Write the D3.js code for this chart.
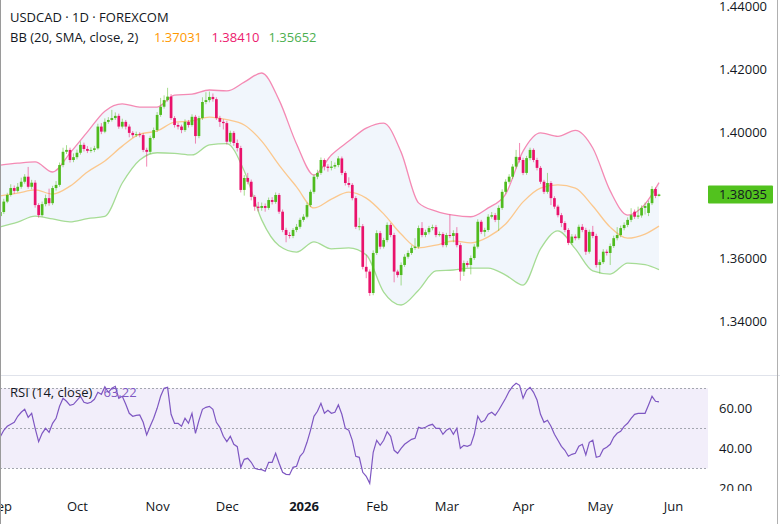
<!DOCTYPE html>
<html>
<head>
<meta charset="utf-8">
<script src="https://cdn.jsdelivr.net/npm/d3@7"></script>
<style>
  body { margin: 0; background: #fff; }
  svg { display: block; font-family: "Open Sans", sans-serif; }
</style>
</head>
<body>
<div class="canva"></div>
<script>
// USDCAD daily, bar index 0 = 1 Oct 2025 (first bar -22 = 1 Sep 2025)
const firstIdx = -22;

const opens = [
  1.3735,1.3748,1.3781,1.3802,1.3824,1.3815,1.3828,1.3844,1.3860,1.3828,
  1.3841,1.3770,1.3738,1.3773,1.3792,1.3776,1.3824,1.3834,1.3897,1.3939,
  1.3945,1.3913,
  1.3922,1.3936,1.3961,1.3948,1.3942,1.3945,1.3950,1.4019,1.4003,1.4034,
  1.4040,1.4046,1.4053,1.4019,1.4034,1.4019,1.3999,1.3992,1.3995,1.3992,
  1.3945,1.3939,1.3983,1.4008,1.4056,1.4082,1.4103,1.4114,1.4046,1.4024,
  1.4019,1.4008,1.4034,1.4024,1.4050,1.3989,1.4046,1.4097,1.4103,1.4113,
  1.4106,1.4046,1.4034,1.4030,1.3971,1.3999,1.3967,1.3951,1.3818,1.3856,
  1.3844,1.3796,1.3765,1.3761,1.3767,1.3761,1.3786,1.3780,1.3802,1.3749,
  1.3691,1.3675,1.3672,1.3691,1.3701,1.3723,1.3733,1.3770,1.3812,1.3860,
  1.3872,1.3913,1.3892,1.3888,1.3892,1.3897,1.3918,1.3872,1.3840,1.3834,
  1.3792,1.3701,1.3703,1.3574,1.3559,1.3491,1.3618,1.3681,1.3638,1.3659,
  1.3707,1.3675,1.3559,1.3548,1.3580,1.3606,1.3618,1.3634,1.3638,1.3697,
  1.3675,1.3684,1.3697,1.3700,1.3675,1.3678,1.3643,1.3675,1.3672,1.3681,
  1.3643,1.3559,1.3586,1.3580,1.3602,1.3638,1.3717,1.3685,1.3691,1.3733,
  1.3738,1.3723,1.3761,1.3812,1.3844,1.3860,1.3892,1.3922,1.3913,1.3872,
  1.3919,1.3945,1.3913,1.3888,1.3844,1.3812,1.3840,1.3792,1.3765,1.3738,
  1.3713,1.3691,1.3650,1.3670,1.3665,1.3701,1.3691,1.3622,1.3685,1.3672,
  1.3580,1.3589,1.3622,1.3618,1.3640,1.3665,1.3675,1.3697,1.3707,1.3723,
  1.3749,1.3733,1.3737,1.3761,1.3745,1.3776,1.3821,1.3799
];

const highs = [
  1.3755,1.3790,1.3809,1.3836,1.3832,1.3840,1.3857,1.3868,1.3891,1.3850,
  1.3849,1.3776,1.3781,1.3803,1.3822,1.3831,1.3846,1.3905,1.3952,1.3960,
  1.3952,1.3934,
  1.3946,1.3972,1.3968,1.3957,1.3953,1.3958,1.4028,1.4030,1.4045,1.4049,
  1.4072,1.4064,1.4060,1.4044,1.4040,1.4026,1.4005,1.4003,1.4001,1.3998,
  1.3952,1.3990,1.4016,1.4065,1.4110,1.4118,1.4142,1.4122,1.4052,1.4031,
  1.4025,1.4042,1.4040,1.4058,1.4056,1.4053,1.4112,1.4128,1.4130,1.4124,
  1.4112,1.4053,1.4042,1.4037,1.4006,1.4005,1.3978,1.3958,1.3865,1.3872,
  1.3851,1.3802,1.3780,1.3778,1.3775,1.3794,1.3795,1.3810,1.3808,1.3756,
  1.3698,1.3684,1.3697,1.3710,1.3730,1.3741,1.3778,1.3819,1.3868,1.3882,
  1.3921,1.3918,1.3900,1.3910,1.3905,1.3925,1.3924,1.3878,1.3858,1.3840,
  1.3798,1.3730,1.3710,1.3612,1.3566,1.3626,1.3690,1.3688,1.3666,1.3715,
  1.3713,1.3682,1.3565,1.3588,1.3614,1.3626,1.3642,1.3665,1.3705,1.3716,
  1.3692,1.3704,1.3708,1.3707,1.3686,1.3684,1.3682,1.3740,1.3690,1.3700,
  1.3650,1.3594,1.3593,1.3610,1.3646,1.3725,1.3723,1.3698,1.3741,1.3748,
  1.3745,1.3769,1.3820,1.3852,1.3868,1.3900,1.3945,1.3967,1.3920,1.3926,
  1.3952,1.3950,1.3920,1.3894,1.3850,1.3872,1.3846,1.3798,1.3771,1.3745,
  1.3719,1.3697,1.3678,1.3677,1.3708,1.3710,1.3698,1.3692,1.3704,1.3679,
  1.3597,1.3630,1.3629,1.3648,1.3673,1.3700,1.3705,1.3715,1.3731,1.3760,
  1.3756,1.3765,1.3769,1.3778,1.3784,1.3830,1.3826,1.3806
];

const lows = [
  1.3728,1.3742,1.3776,1.3797,1.3806,1.3810,1.3822,1.3838,1.3822,1.3820,
  1.3762,1.3730,1.3733,1.3766,1.3768,1.3770,1.3816,1.3828,1.3890,1.3932,
  1.3905,1.3906,
  1.3915,1.3930,1.3940,1.3935,1.3936,1.3938,1.3946,1.3995,1.3998,1.4028,
  1.4035,1.4040,1.4012,1.4013,1.4010,1.3985,1.3984,1.3986,1.3985,1.3938,
  1.3892,1.3932,1.3978,1.4002,1.4050,1.4076,1.4098,1.4040,1.4016,1.4010,
  1.3998,1.4002,1.4016,1.4019,1.3965,1.3982,1.4040,1.4090,1.4096,1.4098,
  1.4040,1.4018,1.4010,1.3962,1.3964,1.3958,1.3940,1.3810,1.3800,1.3836,
  1.3785,1.3752,1.3750,1.3752,1.3749,1.3755,1.3772,1.3774,1.3742,1.3684,
  1.3652,1.3664,1.3665,1.3684,1.3695,1.3717,1.3728,1.3764,1.3806,1.3852,
  1.3866,1.3880,1.3876,1.3880,1.3885,1.3890,1.3865,1.3832,1.3826,1.3785,
  1.3694,1.3690,1.3566,1.3538,1.3482,1.3484,1.3612,1.3630,1.3632,1.3652,
  1.3668,1.3525,1.3540,1.3515,1.3574,1.3600,1.3612,1.3628,1.3632,1.3668,
  1.3668,1.3677,1.3690,1.3668,1.3670,1.3636,1.3636,1.3665,1.3652,1.3636,
  1.3530,1.3545,1.3572,1.3550,1.3596,1.3632,1.3678,1.3670,1.3685,1.3727,
  1.3716,1.3688,1.3755,1.3806,1.3838,1.3853,1.3886,1.3905,1.3865,1.3866,
  1.3912,1.3906,1.3880,1.3837,1.3805,1.3806,1.3770,1.3758,1.3731,1.3700,
  1.3684,1.3643,1.3644,1.3658,1.3660,1.3684,1.3612,1.3616,1.3665,1.3572,
  1.3553,1.3583,1.3610,1.3580,1.3634,1.3658,1.3668,1.3690,1.3700,1.3716,
  1.3726,1.3726,1.3730,1.3740,1.3735,1.3770,1.3792,1.3797
];

const closes = [
  1.3748,1.3781,1.3802,1.3824,1.3815,1.3828,1.3844,1.3860,1.3828,1.3841,
  1.3770,1.3738,1.3773,1.3792,1.3776,1.3824,1.3834,1.3897,1.3939,1.3945,
  1.3913,1.3922,
  1.3936,1.3961,1.3948,1.3942,1.3945,1.3950,1.4019,1.4003,1.4034,1.4040,
  1.4046,1.4053,1.4019,1.4034,1.4019,1.3999,1.3992,1.3995,1.3992,1.3945,
  1.3939,1.3983,1.4008,1.4056,1.4082,1.4103,1.4114,1.4046,1.4024,1.4019,
  1.4008,1.4034,1.4024,1.4050,1.3989,1.4046,1.4097,1.4103,1.4113,1.4106,
  1.4046,1.4034,1.4030,1.3971,1.3999,1.3967,1.3951,1.3818,1.3856,1.3844,
  1.3796,1.3765,1.3761,1.3767,1.3761,1.3786,1.3780,1.3802,1.3749,1.3691,
  1.3675,1.3672,1.3691,1.3701,1.3723,1.3733,1.3770,1.3812,1.3860,1.3872,
  1.3913,1.3892,1.3888,1.3892,1.3897,1.3918,1.3872,1.3840,1.3834,1.3792,
  1.3701,1.3703,1.3574,1.3559,1.3491,1.3618,1.3681,1.3638,1.3659,1.3707,
  1.3675,1.3559,1.3548,1.3580,1.3606,1.3618,1.3634,1.3638,1.3697,1.3675,
  1.3684,1.3697,1.3700,1.3675,1.3678,1.3643,1.3675,1.3672,1.3681,1.3643,
  1.3559,1.3586,1.3580,1.3602,1.3638,1.3717,1.3685,1.3691,1.3733,1.3738,
  1.3723,1.3761,1.3812,1.3844,1.3860,1.3892,1.3923,1.3913,1.3872,1.3919,
  1.3945,1.3913,1.3888,1.3844,1.3812,1.3840,1.3792,1.3765,1.3738,1.3713,
  1.3691,1.3650,1.3670,1.3665,1.3701,1.3691,1.3622,1.3685,1.3672,1.3580,
  1.3589,1.3622,1.3618,1.3640,1.3665,1.3675,1.3697,1.3707,1.3723,1.3738,
  1.3733,1.3737,1.3761,1.3767,1.3776,1.3821,1.3799,1.38035
];

// Bollinger bands (20, 2), read every 5 bars
const bandIdx = [-22,-17,-12,-7,-2,3,8,13,18,23,28,33,38,43,48,53,58,63,68,73,
  78,83,88,93,98,103,108,113,118,123,128,133,138,143,148,153,158,163,167];
const bbUpper = [
  1.3897,1.3903,1.3907,1.3875,1.3935,1.4002,1.4068,1.4091,1.4081,1.4081,
  1.4119,1.4122,1.4135,1.4132,1.4160,1.4189,1.4103,1.3964,1.3865,1.3929,
  1.3973,1.4014,1.4030,1.3938,1.3777,1.3751,1.3738,1.3733,1.3761,1.3805,
  1.3941,1.3999,1.3988,1.4007,1.3951,1.3815,1.3738,1.3773,1.38410
];
const bbBasis = [
  1.3799,1.3808,1.3818,1.3805,1.3830,1.3875,1.3910,1.3957,1.3995,1.4005,
  1.4033,1.4037,1.4049,1.4041,1.4024,1.3973,1.3897,1.3828,1.3761,1.3789,
  1.3811,1.3792,1.3742,1.3678,1.3634,1.3643,1.3656,1.3650,1.3669,1.3710,
  1.3780,1.3824,1.3834,1.3824,1.3767,1.3700,1.3665,1.3678,1.37031
];
const bbLower = [
  1.3701,1.3716,1.3735,1.3726,1.3717,1.3727,1.3734,1.3840,1.3913,1.3936,
  1.3934,1.3929,1.3961,1.3965,1.3878,1.3723,1.3641,1.3621,1.3653,1.3631,
  1.3634,1.3612,1.3494,1.3453,1.3500,1.3561,1.3564,1.3570,1.3570,1.3548,
  1.3516,1.3631,1.3688,1.3631,1.3561,1.3551,1.3586,1.3581,1.35652
];

// RSI (14), one value per bar
const rsi = [
  45.8,49,51,52,53,56,58,59.5,55.5,57.5,
  50,43.3,47.5,50,48,52.5,55,61,65,63.5,
  61.5,62,
  64,66,63,62.5,63,64.5,68,67,70.8,68,
  70,71,65,66,62,57.5,56,56.5,56.7,53,
  46.7,51,55,60,66,70,70.5,57,52.5,52.5,
  51,55,52.5,57.5,47.5,54,59.5,60.5,61,59.5,
  53,50.5,46,43.3,46,42,40.8,30.5,34.5,35,
  33,30,29.5,29.3,28.5,33,33,37.5,32.5,28,
  27,26.8,30.5,31,36,38,43,49,56,58.5,
  62.5,57.5,59,57.5,58,61.7,57,50,49,44,
  36,35.5,28,26,22.5,38,44,41.5,44,48.3,
  46,39,37.5,40,42,43.3,44.5,45,50.5,50,
  50.5,51.5,52,50,50,47,49,50,47,50,
  40,41.5,41,41.7,47,56,53,54,57,58,
  56.5,59,62,65,68.5,71,72.5,71.5,65,69,
  70.5,68,64.2,57,53,54,51,47,44,41,
  39,36,37,37.5,41,42,36.7,43,44,35.5,
  36,39.5,40.5,42,45.5,47.5,48.5,51,52.5,55,
  57,57.5,57.5,57.5,61.7,66,63.5,63.22
];

const tickIdx = [-22, 0, 23, 43, 65, 86, 106, 128, 150, 171];
const tickLabels = ["Sep", "Oct", "Nov", "Dec", "2026", "Feb", "Mar", "Apr", "May", "Jun"];
const priceTicks = [1.34, 1.36, 1.40, 1.42, 1.44];
const rsiTicks = [20, 40, 60];
const rsiLevels = [70, 50, 30];

const upColor = "#4fbb1e", downColor = "#e9126b";
const W = 780, H = 524, plotW = 708;

const svg = d3.select('.canva').append('svg')
    .attr('width', W)
    .attr('height', H);

const x = d3.scaleLinear().domain([-22, 167]).range([0.3, 659]);
const y = d3.scaleLinear().domain([1.32309, 1.44206]).range([375, 0]);
const yR = d3.scaleLinear().domain([18.65, 76.15]).range([491, 376]);

const defs = svg.append('defs');
defs.append('clipPath').attr('id', 'clipMain')
  .append('rect').attr('x', 0).attr('y', 0).attr('width', plotW).attr('height', 375);
defs.append('clipPath').attr('id', 'clipRsi')
  .append('rect').attr('x', 0).attr('y', 376).attr('width', plotW).attr('height', 115);
defs.append('clipPath').attr('id', 'clipRsiAxis')
  .append('rect').attr('x', plotW).attr('y', 376).attr('width', W - plotW).attr('height', 115);

/* main pane */
const main = svg.append('g').attr('clip-path', 'url(#clipMain)');

const bandPts = bandIdx.map((d, k) => ({ i: d, u: bbUpper[k], m: bbBasis[k], l: bbLower[k] }));
const curve = d3.curveMonotoneX;

main.append('path')
  .datum(bandPts)
  .attr('d', d3.area().curve(curve).x(d => x(d.i)).y0(d => y(d.l)).y1(d => y(d.u)))
  .attr('fill', '#f1f6fc');

const bandLine = (key, color) => {
  main.append('path')
    .datum(bandPts)
    .attr('d', d3.line().curve(curve).x(d => x(d.i)).y(d => y(d[key])))
    .attr('fill', 'none')
    .attr('stroke', color)
    .attr('stroke-width', 1.3);
};
bandLine('m', '#fbc88e');
bandLine('u', '#f48ab4');
bandLine('l', '#a6dc95');

const bars = closes.map((c, k) => ({ i: k + firstIdx, o: opens[k], h: highs[k], l: lows[k], c: c }));
const colorOf = d => d.c >= d.o ? upColor : downColor;

main.selectAll('line.wick')
  .data(bars)
  .enter().append('line')
  .attr('class', 'wick')
  .attr('x1', d => x(d.i)).attr('x2', d => x(d.i))
  .attr('y1', d => y(d.h)).attr('y2', d => y(d.l))
  .attr('stroke', colorOf)
  .attr('stroke-opacity', 0.5)
  .attr('stroke-width', 1);

main.selectAll('rect.body')
  .data(bars)
  .enter().append('rect')
  .attr('class', 'body')
  .attr('x', d => x(d.i) - 1.35)
  .attr('width', 2.7)
  .attr('y', d => y(Math.max(d.o, d.c)))
  .attr('height', d => Math.max(1, Math.abs(y(d.o) - y(d.c))))
  .attr('fill', colorOf);

/* price axis */
const pAxis = svg.append('g')
  .attr('transform', `translate(${plotW},0)`)
  .call(d3.axisRight(y).tickValues(priceTicks).tickFormat(d3.format('.5f')).tickSize(0).tickPadding(11));
pAxis.select('.domain').remove();
pAxis.selectAll('text').attr('font-size', 13).attr('font-family', '"Open Sans", sans-serif').attr('fill', '#131722');

const last = closes[closes.length - 1];
svg.append('rect')
  .attr('x', plotW).attr('y', y(last) - 9)
  .attr('width', 65).attr('height', 18)
  .attr('rx', 1)
  .attr('fill', '#52c21e');
svg.append('text')
  .attr('x', plotW + 11).attr('y', y(last))
  .attr('dy', '0.35em')
  .attr('font-size', 13)
  .attr('fill', '#131722')
  .text(d3.format('.5f')(last));

/* legend */
svg.append('text').attr('x', 10).attr('y', 21.5)
  .attr('font-size', 13).attr('fill', '#131722')
  .text('USDCAD · 1D · FOREXCOM');
const bb = svg.append('text').attr('x', 10).attr('y', 41.5).attr('font-size', 13);
bb.append('tspan').attr('fill', '#131722').text('BB (20, SMA, close, 2)');
bb.append('tspan').attr('x', 154).attr('fill', '#ff9800').text(d3.format('.5f')(bbBasis[bbBasis.length - 1]));
bb.append('tspan').attr('x', 211.5).attr('fill', '#ec1a6e').text(d3.format('.5f')(bbUpper[bbUpper.length - 1]));
bb.append('tspan').attr('x', 268.5).attr('fill', '#4caf50').text(d3.format('.5f')(bbLower[bbLower.length - 1]));

/* pane separator */
svg.append('line')
  .attr('x1', 0).attr('x2', W).attr('y1', 375.5).attr('y2', 375.5)
  .attr('stroke', '#e0e3eb');

/* RSI pane */
const rp = svg.append('g').attr('clip-path', 'url(#clipRsi)');
rp.append('rect')
  .attr('x', 0).attr('width', plotW)
  .attr('y', yR(70)).attr('height', yR(30) - yR(70))
  .attr('fill', '#f2eefa');
rp.selectAll('line.level')
  .data(rsiLevels)
  .enter().append('line')
  .attr('class', 'level')
  .attr('x1', 0).attr('x2', plotW)
  .attr('y1', d => Math.round(yR(d)) + 0.5).attr('y2', d => Math.round(yR(d)) + 0.5)
  .attr('stroke', '#a3a6af')
  .attr('stroke-dasharray', '2,2');
rp.append('path')
  .datum(rsi)
  .attr('d', d3.line().x((d, k) => x(k + firstIdx)).y(d => yR(d)))
  .attr('fill', 'none')
  .attr('stroke', '#7e57c2')
  .attr('stroke-width', 1.2);

const rl = svg.append('text').attr('x', 10).attr('y', 397).attr('font-size', 13);
rl.append('tspan').attr('fill', '#131722').text('RSI (14, close)');
rl.append('tspan').attr('x', 103.5).attr('fill', '#7e57c2').text(d3.format('.2f')(rsi[rsi.length - 1]));

const rAxis = svg.append('g')
  .attr('clip-path', 'url(#clipRsiAxis)')
  .append('g')
  .attr('transform', `translate(${plotW},0)`)
  .call(d3.axisRight(yR).tickValues(rsiTicks).tickFormat(d3.format('.2f')).tickSize(0).tickPadding(11));
rAxis.select('.domain').remove();
rAxis.selectAll('text').attr('font-size', 13).attr('font-family', '"Open Sans", sans-serif').attr('fill', '#131722');

/* time axis */
const xAxis = svg.append('g')
  .attr('transform', 'translate(0,491)')
  .call(d3.axisBottom(x).tickValues(tickIdx).tickFormat((d, k) => tickLabels[k]).tickSize(0).tickPadding(11));
xAxis.select('.domain').remove();
xAxis.selectAll('text')
  .attr('font-size', 13).attr('font-family', '"Open Sans", sans-serif').attr('fill', '#131722')
  .attr('font-weight', (d, k) => tickLabels[k] === '2026' ? 'bold' : null);

/* frame */
svg.append('line').attr('x1', 0.5).attr('x2', 0.5).attr('y1', 0).attr('y2', H).attr('stroke', '#9a9a9a');
svg.append('line').attr('x1', W - 2.5).attr('x2', W - 2.5).attr('y1', 0).attr('y2', H).attr('stroke', '#b0b0b0');
</script>
</body>
</html>
